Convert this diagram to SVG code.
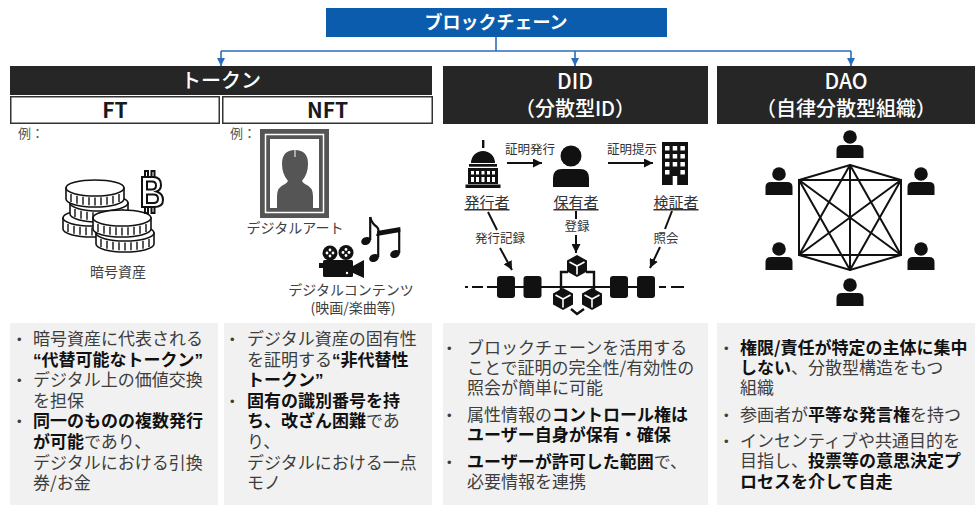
<svg xmlns="http://www.w3.org/2000/svg" xmlns:xlink="http://www.w3.org/1999/xlink" width="975" height="505" viewBox="0 0 975 505">
  <style>
    text { font-family: "Noto Sans CJK JP", "Noto Sans", sans-serif; }
    .hdr { fill: #262626; }
    .hdrtxt { fill: #ffffff; font-size: 20px; font-weight: 500; text-anchor: middle; }
    .sub { fill: #ffffff; stroke: #333333; stroke-width: 1.5; }
    .subtxt { fill: #1a1a1a; font-size: 21px; font-weight: 700; text-anchor: middle; }
    .panel { fill: #f1f1f1; }
    .body { font-size: 17px; fill: #3d3d3d; }
    .b { font-weight: 700; fill: #111111; }
    .q { font-family: "Liberation Sans", sans-serif; }
    .dot { font-family: "Liberation Sans", sans-serif; font-size: 13px; fill: #3d3d3d; }
    .cap { font-size: 14px; fill: #404040; text-anchor: middle; }
    .lbl { font-size: 12.5px; fill: #333333; text-anchor: middle; }
    .role { font-size: 15px; fill: #333333; text-anchor: middle; text-decoration: underline; }
    .flow { stroke: #2a6ebb; stroke-width: 1.6; fill: none; }
    .blk { stroke: #111111; stroke-width: 2; fill: none; }
    .net { stroke: #111111; stroke-width: 2; fill: none; stroke-linecap: round; }
    .coinline { stroke: #111111; stroke-width: 1.6; fill: #ffffff; }
  </style>
  <defs>
    <marker id="arrBlue" viewBox="0 0 10 10" refX="10" refY="5" markerWidth="8" markerHeight="8" markerUnits="userSpaceOnUse" orient="auto">
      <path d="M0,0 L10,5 L0,10 Z" fill="#2a6ebb"/>
    </marker>
    <marker id="arrBlack" viewBox="0 0 10 10" refX="10" refY="5" markerWidth="9" markerHeight="9" markerUnits="userSpaceOnUse" orient="auto">
      <path d="M0,0 L10,5 L0,10 Z" fill="#111111"/>
    </marker>
    <!-- single coin: side band with ridges and top face -->
    <g id="coin">
      <path class="coinline" d="M-29,0 V11 A29,8 0 0 0 29,11 V0 Z"/>
      <g stroke="#111111" stroke-width="1.4">
        <line x1="-24" y1="6" x2="-24" y2="14"/>
        <line x1="-18" y1="7.8" x2="-18" y2="15.8"/>
        <line x1="-12" y1="8.8" x2="-12" y2="16.8"/>
        <line x1="-6" y1="9.3" x2="-6" y2="17.3"/>
        <line x1="0" y1="9.5" x2="0" y2="17.5"/>
        <line x1="6" y1="9.3" x2="6" y2="17.3"/>
        <line x1="12" y1="8.8" x2="12" y2="16.8"/>
        <line x1="18" y1="7.8" x2="18" y2="15.8"/>
        <line x1="24" y1="6" x2="24" y2="14"/>
      </g>
      <ellipse class="coinline" cx="0" cy="0" rx="29" ry="8"/>
    </g>
    <!-- person: head and shoulders, origin at top centre of shoulders -->
    <g id="person">
      <circle cx="0" cy="-8" r="6.8" fill="#111111"/>
      <path d="M-13.5,13 V5 Q-13.5,0 -8,0 H8 Q13.5,0 13.5,5 V13 Z" fill="#111111"/>
    </g>
    <!-- isometric block -->
    <g id="cube">
      <path d="M0,-11 L10,-5.5 L10,5.5 L0,11 L-10,5.5 L-10,-5.5 Z" fill="#111111"/>
      <path d="M-7.5,-4 L0,0 L7.5,-4 M0,0 V8.5" stroke="#ffffff" stroke-width="1.6" fill="none"/>
    </g>
  </defs>

  <!-- root -->
  <g id="blockchain">
    <rect x="326" y="8" width="341" height="29" fill="#0b5cad"/>
    <text x="496" y="28.5" fill="#ffffff" font-size="18" font-weight="700" text-anchor="middle">ブロックチェーン</text>
  </g>

  <!-- connectors from the root -->
  <g id="connectors">
    <line class="flow" x1="496" y1="37" x2="496" y2="51"/>
    <line class="flow" x1="221" y1="51" x2="851" y2="51"/>
    <line class="flow" x1="221" y1="51" x2="221" y2="66" marker-end="url(#arrBlue)"/>
    <line class="flow" x1="575" y1="51" x2="575" y2="66" marker-end="url(#arrBlue)"/>
    <line class="flow" x1="851" y1="51" x2="851" y2="66" marker-end="url(#arrBlue)"/>
  </g>

  <!-- token column -->
  <g id="token">
    <rect class="hdr" x="10" y="66" width="422" height="29"/>
    <text class="hdrtxt" x="221" y="88" font-size="21" font-weight="700">トークン</text>
  </g>

  <g id="ft">
    <rect class="sub" x="10.75" y="96.75" width="208.5" height="26.5"/>
    <text class="subtxt" x="115" y="117.5">FT</text>
    <text x="18" y="138" font-size="13" fill="#555555">例：</text>
    <!-- coin stacks -->
    <use xlink:href="#coin" href="#coin" x="92" y="218"/>
    <use xlink:href="#coin" href="#coin" x="99" y="203"/>
    <use xlink:href="#coin" href="#coin" x="95" y="188"/>
    <use xlink:href="#coin" href="#coin" x="125" y="233"/>
    <use xlink:href="#coin" href="#coin" x="122" y="218"/>
    <!-- bitcoin sign -->
    <g fill="none" stroke="#111111" stroke-width="2">
      <path d="M142,177 H153 Q161,177 161,185 Q161,190 156.5,191.5 Q163,193.5 163,200 Q163,207 154,207 H142 Z"/>
      <path d="M147,181.5 H152 Q156,181.5 156,185.5 Q156,189.5 152,189.5 H147 Z"/>
      <path d="M147,194.5 H153.5 Q158,194.5 158,198.8 Q158,203 153.5,203 H147 Z"/>
      <rect x="145" y="171" width="3" height="6"/>
      <rect x="151.5" y="171" width="3" height="6"/>
      <rect x="145" y="207" width="3" height="6"/>
      <rect x="151.5" y="207" width="3" height="6"/>
    </g>
    <text class="cap" x="118" y="277">暗号資産</text>
  </g>

  <g id="nft">
    <rect class="sub" x="222.75" y="96.75" width="209.5" height="26.5"/>
    <text class="subtxt" x="327.5" y="117.5">NFT</text>
    <text x="230" y="138" font-size="13" fill="#555555">例：</text>
    <!-- framed portrait -->
    <rect x="260" y="129" width="69" height="89" fill="#555555"/>
    <rect x="265.5" y="134.5" width="58" height="78" fill="none" stroke="#ffffff" stroke-width="1.5"/>
    <rect x="270" y="139" width="49" height="69" fill="#ffffff"/>
    <path d="M277,208 V196 Q277,187 285,184 Q287,183 288,181 Q282,174 282,164 Q282,150 295,150 Q308,150 308,164 Q308,174 302,181 Q303,183 305,184 Q313,187 313,196 V208 Z" fill="#555555"/>
    <line x1="295" y1="150" x2="295" y2="157" stroke="#ffffff" stroke-width="1"/>
    <text class="cap" x="295" y="233">デジタルアート</text>
    <!-- film camera -->
    <circle cx="330" cy="253" r="7.5" fill="#111111"/>
    <circle cx="346" cy="252.5" r="7.5" fill="#111111"/>
    <g fill="#ffffff">
      <circle cx="330" cy="250" r="1.4"/><circle cx="330" cy="256" r="1.4"/>
      <circle cx="327" cy="253" r="1.4"/><circle cx="333" cy="253" r="1.4"/>
      <circle cx="346" cy="249.5" r="1.4"/><circle cx="346" cy="255.5" r="1.4"/>
      <circle cx="343" cy="252.5" r="1.4"/><circle cx="349" cy="252.5" r="1.4"/>
    </g>
    <rect x="323" y="260" width="30" height="17" rx="1.5" fill="#111111"/>
    <rect x="319" y="263" width="5" height="5" fill="#111111"/>
    <circle cx="347" cy="273" r="1.2" fill="#ffffff"/>
    <path d="M353,266 L364,260 V278 L353,273 Z" fill="#111111"/>
    <!-- music notes -->
    <g fill="#111111" stroke="#111111">
      <ellipse cx="366" cy="241" rx="5" ry="3.8" transform="rotate(-25 366 241)" stroke="none"/>
      <line x1="370.2" y1="240" x2="370.2" y2="217" stroke-width="2.2"/>
      <path d="M370.2,217 Q372,224 377,227 Q380,230 377,236" fill="none" stroke-width="2.2"/>
      <ellipse cx="374" cy="258" rx="5" ry="3.8" transform="rotate(-25 374 258)" stroke="none"/>
      <ellipse cx="395" cy="254" rx="5" ry="3.8" transform="rotate(-25 395 254)" stroke="none"/>
      <line x1="378.2" y1="257" x2="378.2" y2="233" stroke-width="2.2"/>
      <line x1="399.2" y1="253" x2="399.2" y2="229" stroke-width="2.2"/>
      <path d="M377.1,231 L400.3,227 V232 L377.1,236 Z" stroke="none"/>
    </g>
    <text class="cap"><tspan x="351" y="295">デジタルコンテンツ</tspan><tspan x="353" y="313">(映画/楽曲等)</tspan></text>
  </g>

  <!-- DID column -->
  <g id="did">
    <rect class="hdr" x="443" y="66" width="265" height="58"/>
    <text class="hdrtxt"><tspan x="575" y="89" font-size="21">DID</tspan><tspan x="575" y="116">（分散型ID）</tspan></text>

    <!-- issuer: capitol building -->
    <g fill="#111111">
      <rect x="482" y="140" width="2.4" height="8"/>
      <path d="M471,163 A12,12 0 0 1 495,163 Z"/>
      <rect x="469" y="164" width="28" height="3"/>
      <rect x="468" y="168" width="30" height="16"/>
      <rect x="465.5" y="184.5" width="35" height="3.5"/>
    </g>
    <g fill="#ffffff">
      <rect x="471" y="171" width="3" height="3.5"/><rect x="476" y="171" width="3" height="3.5"/>
      <rect x="481.5" y="171" width="3" height="3.5"/><rect x="487" y="171" width="3" height="3.5"/>
      <rect x="492" y="171" width="3" height="3.5"/>
      <rect x="471" y="177" width="3" height="5"/><rect x="476" y="177" width="3" height="5"/>
      <rect x="481.5" y="177" width="3" height="5"/><rect x="487" y="177" width="3" height="5"/>
      <rect x="492" y="177" width="3" height="5"/>
      <rect x="468" y="166.7" width="30" height="0.9"/>
    </g>
    <text class="role" x="487" y="208">発行者</text>

    <!-- holder -->
    <circle cx="571" cy="156" r="10.5" fill="#111111"/>
    <path d="M553,187 V178 Q553,169 562,169 H580 Q589,169 589,178 V187 Z" fill="#111111"/>
    <text class="role" x="576" y="208">保有者</text>

    <!-- verifier: office building -->
    <rect x="662" y="142" width="26" height="43" fill="#111111"/>
    <g fill="#ffffff">
      <rect x="665" y="146" width="4.5" height="4.5"/><rect x="672.7" y="146" width="4.5" height="4.5"/><rect x="680.4" y="146" width="4.5" height="4.5"/>
      <rect x="665" y="154" width="4.5" height="4.5"/><rect x="672.7" y="154" width="4.5" height="4.5"/><rect x="680.4" y="154" width="4.5" height="4.5"/>
      <rect x="665" y="162" width="4.5" height="4.5"/><rect x="672.7" y="162" width="4.5" height="4.5"/><rect x="680.4" y="162" width="4.5" height="4.5"/>
      <rect x="665" y="170" width="4.5" height="4.5"/><rect x="680.4" y="170" width="4.5" height="4.5"/>
      <rect x="672.7" y="176" width="4.5" height="9"/>
    </g>
    <text class="role" x="676" y="208">検証者</text>

    <!-- flows between roles and the ledger -->
    <line class="blk" x1="507" y1="163" x2="542" y2="163" marker-end="url(#arrBlack)"/>
    <text class="lbl" x="530" y="154">証明発行</text>
    <line class="blk" x1="608" y1="163" x2="653" y2="163" marker-end="url(#arrBlack)"/>
    <text class="lbl" x="632" y="154">証明提示</text>

    <line class="blk" x1="488" y1="212" x2="497" y2="230"/>
    <text class="lbl" x="500" y="243">発行記録</text>
    <line class="blk" x1="500" y1="248" x2="512" y2="270" marker-end="url(#arrBlack)"/>

    <line class="blk" x1="576" y1="211" x2="576" y2="219"/>
    <text class="lbl" x="577" y="231">登録</text>
    <line class="blk" x1="576" y1="235" x2="576" y2="253" marker-end="url(#arrBlack)"/>

    <line class="blk" x1="672" y1="211" x2="665" y2="229"/>
    <text class="lbl" x="666" y="243">照会</text>
    <line class="blk" x1="660" y1="247" x2="650" y2="268" marker-end="url(#arrBlack)"/>

    <!-- ledger chain -->
    <g stroke="#111111" stroke-width="2">
      <line x1="465" y1="287" x2="468" y2="287"/>
      <line x1="472" y1="287" x2="483" y2="287"/>
      <line x1="487" y1="287" x2="655" y2="287"/>
      <line x1="659" y1="287" x2="666" y2="287"/>
      <line x1="671" y1="287" x2="684" y2="287"/>
    </g>
    <g fill="#111111">
      <rect x="497" y="276" width="18" height="22" rx="3"/>
      <rect x="523.5" y="276" width="18" height="22" rx="3"/>
      <rect x="610" y="276" width="18" height="22" rx="3"/>
      <rect x="637" y="276" width="18" height="22" rx="3"/>
    </g>
    <path d="M568,272 H561 V290 M586,272 H594 V290 M571,309 L577,314 L584,309" stroke="#111111" stroke-width="2.4" fill="none"/>
    <use xlink:href="#cube" href="#cube" x="577" y="266"/>
    <use xlink:href="#cube" href="#cube" x="563" y="299"/>
    <use xlink:href="#cube" href="#cube" x="592" y="299"/>
  </g>

  <!-- DAO column -->
  <g id="dao">
    <rect class="hdr" x="717" y="66" width="258" height="58"/>
    <text class="hdrtxt"><tspan x="846" y="89" font-size="21">DAO</tspan><tspan x="846" y="116">（自律分散型組織）</tspan></text>
    <!-- fully connected members -->
    <g class="net">
      <path d="M850,165 L901,180 L901,255 L850,270 L799,255 L799,180 Z"/>
      <path d="M850,165 L901,255 M850,165 L850,270 M850,165 L799,255"/>
      <path d="M901,180 L850,270 M901,180 L799,255 M901,180 L799,180"/>
      <path d="M901,255 L799,255 M901,255 L799,180"/>
      <path d="M850,270 L799,180"/>
    </g>
    <use xlink:href="#person" href="#person" x="850" y="145"/>
    <use xlink:href="#person" href="#person" x="779" y="182"/>
    <use xlink:href="#person" href="#person" x="921" y="182"/>
    <use xlink:href="#person" href="#person" x="779" y="257"/>
    <use xlink:href="#person" href="#person" x="921" y="257"/>
    <use xlink:href="#person" href="#person" x="850" y="293"/>
  </g>

  <!-- description panels -->
  <g id="ft-notes">
    <rect class="panel" x="10" y="323" width="208" height="182"/>
    <text class="dot"><tspan x="17" y="344">•</tspan><tspan x="17" y="385">•</tspan><tspan x="17" y="426">•</tspan></text>
    <text class="body">
      <tspan x="33" y="345">暗号資産に代表される</tspan>
      <tspan x="33" y="365.6" class="b"><tspan class="q">“</tspan>代替可能なトークン<tspan class="q">”</tspan></tspan>
      <tspan x="33" y="386.2">デジタル上の価値交換</tspan>
      <tspan x="33" y="406.8">を担保</tspan>
      <tspan x="33" y="427.4" class="b">同一のものの複数発行</tspan>
      <tspan x="33" y="448"><tspan class="b">が可能</tspan>であり、</tspan>
      <tspan x="33" y="468.6">デジタルにおける引換</tspan>
      <tspan x="33" y="489.2">券/お金</tspan>
    </text>
  </g>

  <g id="nft-notes">
    <rect class="panel" x="224" y="323" width="208" height="182"/>
    <text class="dot"><tspan x="230" y="344">•</tspan><tspan x="230" y="406">•</tspan></text>
    <text class="body">
      <tspan x="247" y="345">デジタル資産の固有性</tspan>
      <tspan x="247" y="365.6">を証明する<tspan class="b"><tspan class="q">“</tspan>非代替性</tspan></tspan>
      <tspan x="247" y="386.2" class="b">トークン<tspan class="q">”</tspan></tspan>
      <tspan x="247" y="406.8" class="b">固有の識別番号を持</tspan>
      <tspan x="247" y="427.4"><tspan class="b">ち、改ざん困難</tspan>であ</tspan>
      <tspan x="247" y="448">り、</tspan>
      <tspan x="247" y="468.6">デジタルにおける一点</tspan>
      <tspan x="247" y="489.2">モノ</tspan>
    </text>
  </g>

  <g id="did-notes">
    <rect class="panel" x="443" y="323" width="265" height="182"/>
    <text class="dot"><tspan x="447" y="353">•</tspan><tspan x="447" y="420">•</tspan><tspan x="447" y="467">•</tspan></text>
    <text class="body">
      <tspan x="467" y="354">ブロックチェーンを活用する</tspan>
      <tspan x="467" y="374">ことで証明の完全性/有効性の</tspan>
      <tspan x="467" y="394">照会が簡単に可能</tspan>
      <tspan x="467" y="421">属性情報の<tspan class="b">コントロール権は</tspan></tspan>
      <tspan x="467" y="441" class="b">ユーザー自身が保有・確保</tspan>
      <tspan x="467" y="468"><tspan class="b">ユーザーが許可した範囲</tspan>で、</tspan>
      <tspan x="467" y="488">必要情報を連携</tspan>
    </text>
  </g>

  <g id="dao-notes">
    <rect class="panel" x="717" y="323" width="258" height="182"/>
    <text class="dot"><tspan x="724" y="353">•</tspan><tspan x="724" y="420">•</tspan><tspan x="724" y="446">•</tspan></text>
    <text class="body">
      <tspan x="740" y="354" class="b">権限/責任が特定の主体に集中</tspan>
      <tspan x="740" y="374"><tspan class="b">しない</tspan>、分散型構造をもつ</tspan>
      <tspan x="740" y="394">組織</tspan>
      <tspan x="740" y="421">参画者が<tspan class="b">平等な発言権</tspan>を持つ</tspan>
      <tspan x="740" y="447">インセンティブや共通目的を</tspan>
      <tspan x="740" y="467">目指し、<tspan class="b">投票等の意思決定プ</tspan></tspan>
      <tspan x="740" y="488" class="b">ロセスを介して自走</tspan>
    </text>
  </g>
</svg>
